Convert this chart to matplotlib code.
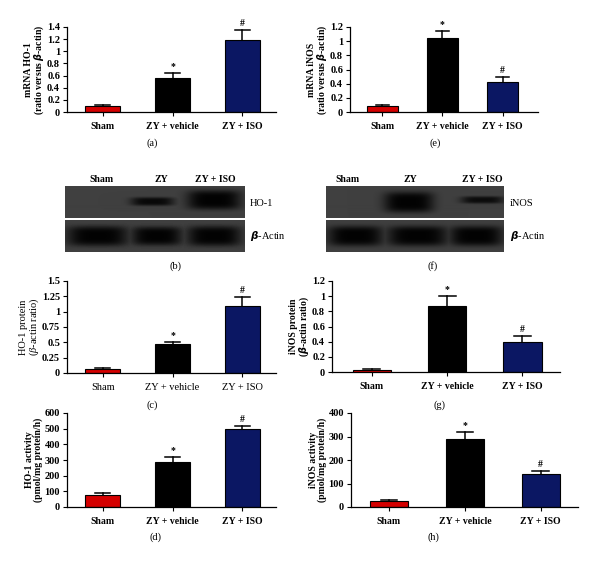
import numpy as np
import matplotlib
matplotlib.use("Agg")
import matplotlib.pyplot as plt

plt.rcParams['font.family'] = ['Liberation Serif', 'DejaVu Serif']
plt.rcParams['mathtext.fontset'] = 'custom'
plt.rcParams['mathtext.it'] = 'Liberation Serif:italic'
plt.rcParams['mathtext.bf'] = 'Liberation Serif:bold'
plt.rcParams['mathtext.rm'] = 'Liberation Serif'

# groups
groups = ["Sham", "ZY + vehicle", "ZY + ISO"]
bar_colors = ["#d40000", "#000000", "#0b1763"]

# (a) mRNA HO-1
mrna_ho1 = [0.10, 0.56, 1.18]
mrna_ho1_err = [0.01, 0.09, 0.17]
# (e) mRNA iNOS
mrna_inos = [0.08, 1.05, 0.43]
mrna_inos_err = [0.02, 0.10, 0.07]
# (c) HO-1 protein
prot_ho1 = [0.07, 0.47, 1.10]
prot_ho1_err = [0.01, 0.04, 0.14]
# (g) iNOS protein
prot_inos = [0.03, 0.87, 0.40]
prot_inos_err = [0.01, 0.13, 0.08]
# (d) HO-1 activity
act_ho1 = [78, 285, 495]
act_ho1_err = [10, 35, 20]
# (h) iNOS activity
act_inos = [25, 290, 140]
act_inos_err = [5, 28, 12]

marks = ["", "*", "#"]

# western blots: lane labels and band (lane centre, half width, y centre, half height, darkness)
blot_lanes_b = ["Sham", "ZY", "ZY + ISO"]
blot_lanes_f = ["Sham", "ZY", "ZY + ISO"]
ho1_bands = [(0.486, 0.12, 0.50, 0.13, 0.9), (0.83, 0.15, 0.45, 0.30, 1.0)]
actin_b_bands = [(0.18, 0.17, 0.50, 0.32, 1.0), (0.51, 0.14, 0.50, 0.30, 1.0), (0.83, 0.15, 0.50, 0.32, 1.0)]
inos_bands = [(0.466, 0.14, 0.52, 0.32, 1.0), (0.88, 0.12, 0.45, 0.11, 0.85)]
actin_f_bands = [(0.165, 0.155, 0.50, 0.32, 1.0), (0.515, 0.17, 0.50, 0.32, 1.0), (0.846, 0.15, 0.50, 0.32, 1.0)]

W, H = 600, 562
fig = plt.figure(figsize=(W / 100, H / 100), dpi=100)


def px_ax(x0, y0, x1, y1):
    return fig.add_axes([x0 / W, 1 - y1 / H, (x1 - x0) / W, (y1 - y0) / H])


def draw_bars(ax, vals, errs, ymax, yticks, ylabel, xlim, width, bold=True):
    wt = "bold" if bold else "normal"
    fs = 7 if bold else 7.5
    x = np.arange(len(groups))
    ax.bar(x, vals, width=width, color=bar_colors, edgecolor="black", linewidth=0.8, zorder=2)
    for i in range(len(groups)):
        top = vals[i] + errs[i]
        ax.plot([x[i], x[i]], [vals[i], top], color="black", lw=1.1, zorder=1)
        ax.plot([x[i] - width * 0.22, x[i] + width * 0.22], [top, top], color="black", lw=1.1, zorder=1)
        if marks[i]:
            ax.text(x[i], top + ymax * 0.02, marks[i], ha="center", va="bottom",
                    fontsize=7, fontweight="bold")
    ax.set_xlim(*xlim)
    ax.set_ylim(0, ymax)
    ax.set_yticks(yticks)
    ax.set_yticklabels([f"{v:g}" for v in yticks], fontsize=7.5, fontweight="bold")
    ax.set_xticks(x)
    ax.set_xticklabels(groups, fontsize=fs, fontweight=wt)
    ax.tick_params(axis="both", length=3, width=0.8, pad=2)
    ax.tick_params(axis="x", pad=4)
    for s in ["top", "right"]:
        ax.spines[s].set_visible(False)
    for s in ["left", "bottom"]:
        ax.spines[s].set_linewidth(0.9)
    ax.set_ylabel(ylabel, fontsize=fs, linespacing=0.9, labelpad=1, fontweight=wt)
    ax.patch.set_alpha(0)


def draw_blot(ax, bands, shape=(32, 180)):
    h, w = shape
    yy, xx = np.mgrid[0:h, 0:w]
    xx = xx / (w - 1)
    yy = yy / (h - 1)
    dark = np.zeros(shape)
    for cx, hw, cy, hh, d in bands:
        dark = np.maximum(dark, d * np.exp(-((xx - cx) / hw) ** 4 - ((yy - cy) / hh) ** 4))
    img = 0.25 - 0.24 * dark
    ax.imshow(img, cmap="gray", vmin=0, vmax=1, aspect="auto", interpolation="bilinear")
    ax.set_xticks([])
    ax.set_yticks([])
    for s in ax.spines.values():
        s.set_visible(False)


# (a)
ax = px_ax(67, 27, 276, 112)
draw_bars(ax, mrna_ho1, mrna_ho1_err, 1.4, [0, 0.2, 0.4, 0.6, 0.8, 1, 1.2, 1.4],
          "mRNA HO-1\n(ratio versus $\\mathbfit{\\beta}$-actin)", (-0.51, 2.48), 0.51)
# (e)
ax = px_ax(350, 27, 538, 112)
draw_bars(ax, mrna_inos, mrna_inos_err, 1.2, [0, 0.2, 0.4, 0.6, 0.8, 1, 1.2],
          "mRNA iNOS\n(ratio versus $\\mathbfit{\\beta}$-actin)", (-0.54, 2.59), 0.52)
# (c)
ax = px_ax(67, 281, 276, 373)
draw_bars(ax, prot_ho1, prot_ho1_err, 1.5, [0, 0.25, 0.5, 0.75, 1, 1.25, 1.5],
          "HO-1 protein\n($\\it{\\beta}$-actin ratio)", (-0.51, 2.48), 0.51, bold=False)
# (g)
ax = px_ax(332, 281, 560, 372)
draw_bars(ax, prot_inos, prot_inos_err, 1.2, [0, 0.2, 0.4, 0.6, 0.8, 1, 1.2],
          "iNOS protein\n($\\mathbfit{\\beta}$-actin ratio)", (-0.53, 2.5), 0.51)
# (d)
ax = px_ax(67, 413, 276, 507)
draw_bars(ax, act_ho1, act_ho1_err, 600, [0, 100, 200, 300, 400, 500, 600],
          "HO-1 activity\n(pmol/mg protein/h)", (-0.51, 2.48), 0.51)
# (h)
ax = px_ax(351, 413, 578, 507)
draw_bars(ax, act_inos, act_inos_err, 400, [0, 100, 200, 300, 400],
          "iNOS activity\n(pmol/mg protein/h)", (-0.5, 2.49), 0.5)

# (b) blot
draw_blot(px_ax(65, 186, 245, 218), ho1_bands)
draw_blot(px_ax(65, 220, 245, 252), actin_b_bands)
for lab, xc in zip(blot_lanes_b, [101, 161, 215]):
    fig.text(xc / W, 1 - 179 / H, lab, ha="center", va="center", fontsize=7, fontweight="bold")
fig.text(250 / W, 1 - 203 / H, "HO-1", ha="left", va="center", fontsize=7.5)
fig.text(250 / W, 1 - 236 / H, "$\\mathbfit{\\beta}$-Actin", ha="left", va="center", fontsize=7.5)

# (f) blot
draw_blot(px_ax(326, 186, 504, 218), inos_bands, (32, 178))
draw_blot(px_ax(326, 220, 504, 252), actin_f_bands, (32, 178))
for lab, xc in zip(blot_lanes_f, [348, 410, 482]):
    fig.text(xc / W, 1 - 179 / H, lab, ha="center", va="center", fontsize=7, fontweight="bold")
fig.text(510 / W, 1 - 203 / H, "iNOS", ha="left", va="center", fontsize=7.5)
fig.text(510 / W, 1 - 236 / H, "$\\mathbfit{\\beta}$-Actin", ha="left", va="center", fontsize=7.5)

# panel letters
for lab, xp, yp in [("(a)", 152, 143), ("(e)", 435, 143), ("(b)", 175, 266), ("(f)", 433, 266),
                    ("(c)", 152, 405), ("(g)", 440, 405), ("(d)", 155, 537), ("(h)", 433, 537)]:
    fig.text(xp / W, 1 - yp / H, lab, ha="center", va="center", fontsize=7.5)

fig.savefig("out.png", dpi=100)
